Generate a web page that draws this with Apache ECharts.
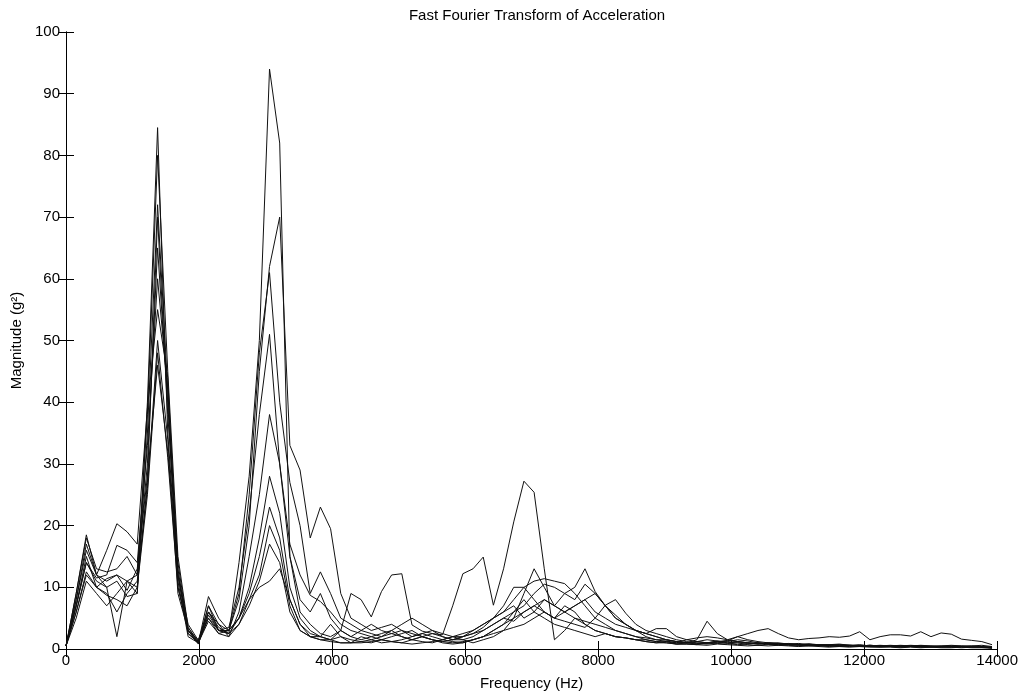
<!DOCTYPE html>
<html>
<head>
<meta charset="utf-8">
<script src="https://cdn.jsdelivr.net/npm/echarts@6/dist/echarts.min.js"></script>
<style>
html,body{margin:0;padding:0;background:#fff;}
#chart{width:1021px;height:696px;}
</style>
</head>
<body>
<div id="chart"></div>
<script>
const titleText = 'Fast Fourier Transform of Acceleration';
const xName = 'Frequency (Hz)';
const yName = 'Magnitude (g²)';

const frequencies = [
0,153,306,459,612,765,918,1071,1224,1377,
1530,1683,1836,1989,2142,2295,2448,2601,2754,2907,
3060,3213,3366,3519,3672,3825,3978,4131,4284,4437,
4590,4743,4896,5049,5202,5355,5508,5661,5814,5967,
6120,6273,6426,6579,6732,6885,7038,7191,7344,7497,
7650,7803,7956,8109,8262,8415,8568,8721,8874,9027,
9180,9333,9486,9639,9792,9945,10098,10251,10404,10557,
10710,10863,11016,11169,11322,11475,11628,11781,11934,12087,
12240,12393,12546,12699,12852,13005,13158,13311,13464,13617,
13770,13923];

const s1 = [0.5,8,17,12,11,12,11,12,30,65, 40,10,3,1,6,3,2.5,14,28,50, 94,82,15,6,4,2.5,2,3,
2,1.5,2,2.5,3,2,1.5,2,1.5,1.2, 1.5,2,2.5,3,4,5,6,8,6,5, 4,3.5,3,2.5,2,2.5,2,1.8,1.5,1.5, 1.2,1.3,1,
1.5,1.8,2,1.8,1.5,2,2.5,3,3.3,2.5, 1.8,1.5,1.7,1.8,2,1.9,2.1,2.8,1.5,2, 2.3,2.3,2.1,2.8,2,2.6,2.4,1.6,1.4,1.2, 0.7];
const s2 = [0.5,9,18.5,12,10,2,11,9,40,84.5, 35,12,3,1,7,3,3,5,8,10, 11,13,8,4,2.5,2,1.5,2,
1,2,1.5,1,1.2,1.5,2,2.5,2,1.5, 2,2.5,3,4,5,7,10,10,8,6, 5,7,6,4,3,2.5,2,1.8,1.5,1.2, 1,1.2,0.8,
1,0.8,1,1.2,0.9,0.7,0.8,1,0.8,0.6, 0.7,0.6,0.5,0.6,0.5,0.4,0.5,0.4,0.4,0.5, 0.4,0.3,0.4,0.3,0.4,0.3,0.3,0.4,0.3,0.3, 0.2];
const s3 = [0.5,9,18,13,12.5,13,15,12,38,80, 45,15,3.5,1.2,6,4,3,8,20,45, 62,70,33,29,18,23,19.5,9,
5,4,3,3.5,4,3,2,2.5,3,2, 1.5,2,2.5,3.5,5,6,8,10,11,11.4, 11,10.6,9,7,5,4,3,2.5,2,1.8, 1.5,1.5,1.2,
1,1.2,1.5,1.3,1,1.2,1,0.8,0.9,1, 0.8,0.7,0.8,0.6,0.7,0.6,0.5,0.6,0.5,0.5, 0.6,0.5,0.4,0.5,0.4,0.5,0.4,0.4,0.5,0.4, 0.3];
const s4 = [0.5,7,14,11,10,11,8.5,9,35,72, 42,12,2.5,1,5,2.5,3,9,25,48, 61,40,27,20,9,12.5,9,5,
4,3,2.5,2,3,4,5,4,3,2.5, 2,2,3,4,5,6,7,5,6,8, 7,9,10,13,9.3,7,5,4,3,2.5, 2,1.5,1.2,
1,0.9,0.8,1,1.2,1.5,1.3,1,0.8,0.7, 0.8,0.9,0.7,0.6,0.7,0.8,0.6,0.5,0.6,0.5, 0.4,0.5,0.6,0.5,0.4,0.5,0.6,0.5,0.4,0.3, 0.3];
const s5 = [0.5,6,12.5,10,8.7,8,7,10,27,70, 38,14,3,0.8,5.5,3,3.5,10,22,38, 51,30,17,12,8.7,7.7,6,4,
3,2.5,2,1.5,1.2,1,1.5,2,2.5,2, 1.5,1.5,2,3,4,5,4.5,6,7,6, 5,6,7,8,9,7,5,4,3,2, 1.5,1.2,1,
1,1.5,4.5,2.5,1.5,1.2,1,0.8,1,0.9, 0.8,0.7,0.6,0.7,0.6,0.5,0.6,0.7,0.5,0.4, 0.5,0.4,0.5,0.4,0.3,0.4,0.5,0.4,0.3,0.3, 0.2];
const s6 = [0.5,7,14,11.5,12,16.8,16,14,33,60, 42,13,2.5,1,7,4,2,6,15,25, 38,30,15,8,6,9,5,3,
2,3,4,3,2.5,2,1.5,1.2,1,1.5, 2,1.5,1,1.5,2,3,5,9,13,10, 7,6,5,4.5,4,3.5,3,2.5,2,1.5, 1.2,1,0.8,
0.8,0.7,1,0.9,0.8,1,0.7,0.6,0.8,0.7, 0.6,0.5,0.6,0.5,0.4,0.5,0.4,0.5,0.4,0.3, 0.4,0.3,0.4,0.3,0.3,0.4,0.3,0.2,0.3,0.3, 0.2];
const s7 = [0.5,8,16,12,16,20.3,19,17,39,55, 44,11,2,1,8.5,5,3,5,10,18, 28,22,10,5,3,2,4,2,
1.5,1.2,1,1.5,2,2.5,3,2,1.5,1, 0.8,1,1.5,2,3,4,5,6,7,8, 7,6,7,8,6,5,4,3.5,3,2.5, 3.3,3.3,2,
1.5,1.2,1,1.2,1.4,1.2,1,0.9,1,0.8, 0.9,0.7,0.8,0.7,0.6,0.7,0.6,0.5,0.6,0.5, 0.5,0.6,0.5,0.4,0.5,0.4,0.4,0.5,0.4,0.3, 0.3];
const s8 = [0.5,6,12,10,9,6,9,11,26,50, 34,9,3,1.5,6,3.5,2.5,5,9,15, 23,18,8,4,2,1.5,1.5,3,
9,8,5.2,9.3,12,12.2,3.9,2.9,2.5,2.3, 7,12.2,13,14.9,7.1,13,20.6,27.2,25.4,13, 1.5,3,5,4,3,2.5,2,1.8,1.5,1.2, 1,1,0.8,
0.8,0.7,0.6,0.8,0.7,0.6,0.5,0.6,0.5,0.6, 0.5,0.4,0.5,0.4,0.3,0.4,0.3,0.4,0.3,0.3, 0.3,0.2,0.3,0.2,0.3,0.2,0.2,0.3,0.2,0.2, 0.1];
const s9 = [0.5,5,11,9,7,9,11,10,25,48, 31,10,3.5,1,4.5,2.5,2,4,8,12, 20,16,7,3,2,1.5,1.2,1,
1,1.2,1.5,2,2.5,3,2.5,2,1.5,1.2, 1,1.2,1.5,2,3,4,6,7,9,10.5, 10,9,8,10.5,9,7,5.5,4,3,2.5, 2,1.5,1.2,
1,1.2,1,1.3,1.1,1,0.9,1,0.8,0.9, 0.7,0.8,0.6,0.7,0.6,0.5,0.6,0.5,0.5,0.6, 0.5,0.4,0.5,0.6,0.5,0.4,0.5,0.4,0.5,0.6, 0.4];
const s10 = [0.5,7,15,10,11.4,12,9.5,13,28,46, 32,12,4,1.4,5,3,2.5,4,7,11, 17,14,6,3,2,2,1.5,1,
1,1,1.2,1.5,1.2,1,0.8,1,1.2,1.5, 1.2,1,1.5,2,2.5,3,3.5,4,5,6, 5,4.5,4,3.5,5,7.1,8,5.8,4,3, 2.5,2,1.5,
1.2,1,0.9,1.1,1.3,2,1.5,1.2,1,0.9, 0.8,0.7,0.8,0.7,0.6,0.7,0.6,0.5,0.6,0.5, 0.4,0.5,0.4,0.5,0.4,0.3,0.4,0.3,0.4,0.3, 0.3];

const allSeries = [s1, s2, s3, s4, s5, s6, s7, s8, s9, s10];

const FONT = 'Liberation Sans, Arial, Helvetica, sans-serif';
const FS = 15;
const chart = echarts.init(document.getElementById('chart'), null, {renderer: 'canvas'});

const axisCommon = {
  axisLine: {show: true, lineStyle: {color: '#000', width: 1}},
  axisTick: {show: true, inside: true, length: 8, lineStyle: {color: '#000', width: 1}},
  splitLine: {show: false}
};
const plain = function (v) { return String(v); };

chart.setOption({
  animation: false,
  backgroundColor: '#fff',
  title: {
    text: titleText,
    left: 532,
    top: 3,
    textAlign: 'center',
    textStyle: {fontFamily: FONT, fontSize: FS, fontWeight: 'normal', color: '#000'}
  },
  grid: {left: 66, right: 22, top: 32, bottom: 45, containLabel: false},
  xAxis: [
    Object.assign({
      type: 'value', min: 0, max: 14000, interval: 2000, position: 'bottom',
      name: xName, nameLocation: 'middle', nameGap: 27,
      nameTextStyle: {fontFamily: FONT, fontSize: FS, color: '#000'},
      axisLabel: {fontFamily: FONT, fontSize: FS, color: '#000', margin: 4, formatter: plain}
    }, axisCommon),
    Object.assign({
      type: 'value', min: 0, max: 14000, interval: 2000, position: 'top',
      axisLabel: {show: false}
    }, axisCommon)
  ],
  yAxis: [
    Object.assign({
      type: 'value', min: 0, max: 100, interval: 10, position: 'left',
      name: yName, nameLocation: 'middle', nameGap: 40,
      nameTextStyle: {fontFamily: FONT, fontSize: FS, color: '#000'},
      axisLabel: {fontFamily: FONT, fontSize: FS, color: '#000', margin: 6, formatter: plain}
    }, axisCommon),
    Object.assign({
      type: 'value', min: 0, max: 100, interval: 10, position: 'right',
      axisLabel: {show: false}
    }, axisCommon)
  ],
  series: allSeries.map(function (vals) {
    return {
      type: 'line',
      xAxisIndex: 0,
      yAxisIndex: 0,
      showSymbol: false,
      symbol: 'none',
      silent: true,
      lineStyle: {color: '#111', width: 1},
      data: frequencies.map(function (f, i) { return [f, vals[i]]; })
    };
  })
});
</script>
</body>
</html>
